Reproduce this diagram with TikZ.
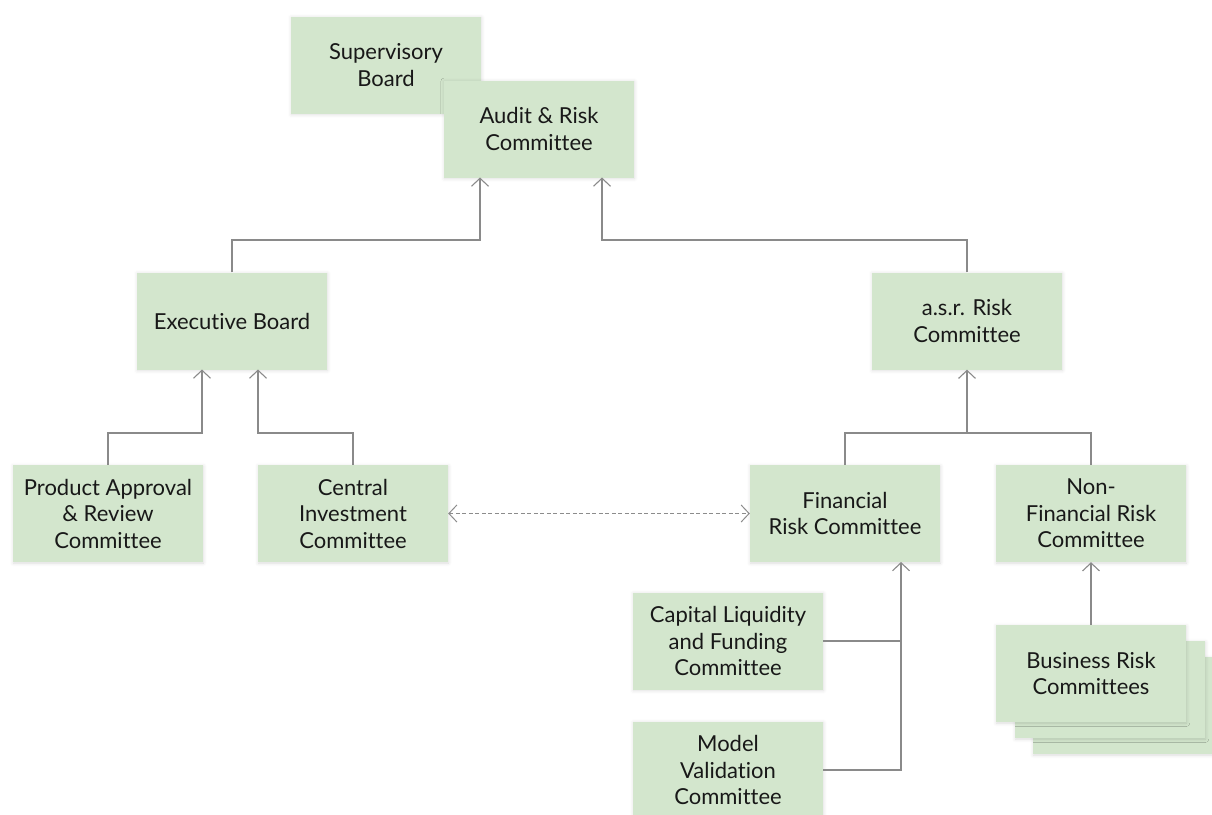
\documentclass[tikz,border=0pt]{standalone}
\usepackage{fontspec}
\setmainfont{Lato}[Ligatures={NoCommon,NoRequired,NoContextual}]
\usetikzlibrary{arrows.meta,shadows.blur,calc}
\definecolor{boxfill}{RGB}{211,230,205}
\definecolor{linegrey}{RGB}{138,138,138}
\definecolor{dashgrey}{RGB}{140,140,140}
\definecolor{txt}{RGB}{24,24,24}
\tikzset{
  orgbox/.style={fill=boxfill, draw=none, minimum width=190pt, minimum height=97pt,
    inner sep=0pt, align=center, text=txt, font=\fontsize{22}{26.5}\selectfont,
    blur shadow={shadow xshift=0.3pt, shadow yshift=-1pt, shadow blur radius=3.5pt, shadow opacity=14}},
  link/.style={draw=linegrey, line width=1.1pt},
  arr/.style={link, -{Straight Barb[length=8pt,width=17pt,line width=1.1pt]}},
  dasharr/.style={draw=dashgrey, line width=1pt, dash pattern=on 4pt off 2.5pt,
    {Straight Barb[length=8pt,width=17pt,line width=1pt]}-{Straight Barb[length=8pt,width=17pt,line width=1pt]}}
}
\begin{document}
\begin{tikzpicture}[x=1pt,y=-1pt]
\useasboundingbox (0,0) rectangle (1212,814);
\clip (0,0) rectangle (1212,814);
% boxes
\node[orgbox] (sup) at (386,65) {Supervisory\\Board};
\node[orgbox] (audit) at (539,129) {Audit \& Risk\\Committee};
\node[orgbox] (exec) at (232,321) {Executive Board};
\node[orgbox] (asr) at (967,321) {a.s.r. Risk\\Committee};
\node[orgbox] (pa) at (108,513.5) {Product Approval\\\& Review\\Committee};
\node[orgbox] (ci) at (353,513.5) {Central\\Investment\\Committee};
\node[orgbox] (fr) at (845,513.5) {Financial\\Risk Committee};
\node[orgbox] (nfr) at (1091,513.5) {Non-\\Financial Risk\\Committee};
\node[orgbox] (cl) at (728,641) {Capital Liquidity\\and Funding\\Committee};
\node[orgbox] (mv) at (728,770) {Model\\Validation\\Committee};
\node[orgbox] (br3) at (1128,705.5) {};
\node[orgbox] (br2) at (1110,689.5) {};
\node[orgbox] (br) at (1091,673.5) {Business Risk\\Committees};
% junction coordinates
\coordinate (auL) at (480,177.5);
\coordinate (auR) at (602,177.5);
\coordinate (j1) at (480,240);
\coordinate (j2) at (602,240);
\coordinate (exL) at (202,369.5);
\coordinate (exR) at (258,369.5);
\coordinate (j3) at (202,433);
\coordinate (j4) at (258,433);
\coordinate (j5) at (967,433);
\coordinate (frin) at (901,562);
% connectors
\draw[arr] (exec.north) |- (j1) -- (auL);
\draw[arr] (asr.north) |- (j2) -- (auR);
\draw[arr] (pa.north) |- (j3) -- (exL);
\draw[arr] (ci.north) |- (j4) -- (exR);
\draw[link] (fr.north) |- (j5) -| (nfr.north);
\draw[arr] (j5) -- (asr.south);
\draw[link] (cl.east) -- (cl.east -| frin);
\draw[arr] (mv.east) -| (frin);
\draw[arr] (br.north) -- (nfr.south);
\draw[dasharr] (ci.east) -- (fr.west);
\end{tikzpicture}
\end{document}
